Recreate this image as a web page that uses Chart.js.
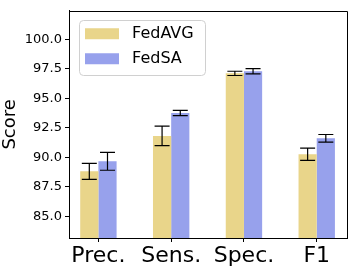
<!DOCTYPE html>
<html lang="en">
<head>
<meta charset="UTF-8">
<script src="https://cdn.jsdelivr.net/npm/chart.js@4.4.0/dist/chart.umd.min.js"></script>
<style>
  html, body { margin: 0; padding: 0; background: #fff; }
  #wrap { width: 357px; height: 268px; }
</style>
</head>
<body>
<div id="wrap"><canvas id="myChart" width="357" height="268"></canvas></div>
<script>
    // data
    const categories = ['Prec.', 'Sens.', 'Spec.', 'F1'];
    const fedavg = [88.8, 91.8, 97.1, 90.25];
    const fedavgErr = [0.68, 0.83, 0.18, 0.52];
    const fedsa = [89.65, 93.74, 97.28, 91.6];
    const fedsaErr = [0.76, 0.22, 0.22, 0.32];
    const yTicks = [85, 87.5, 90, 92.5, 95, 97.5, 100];

    const font = 'DejaVu Sans';

    // error bars with caps, placed through the scales
    const errorBars = {
        id: 'errorBars',
        afterDatasetsDraw(chart) {
            const ctx = chart.ctx;
            const y = chart.scales.y;
            ctx.save();
            ctx.strokeStyle = '#000';
            ctx.lineWidth = 1.2;
            chart.data.datasets.forEach((ds, di) => {
                const meta = chart.getDatasetMeta(di);
                meta.data.forEach((bar, i) => {
                    const v = ds.data[i].y, e = ds.err[i];
                    const top = y.getPixelForValue(v + e);
                    const bot = y.getPixelForValue(v - e);
                    ctx.beginPath();
                    ctx.moveTo(bar.x, top); ctx.lineTo(bar.x, bot);
                    ctx.moveTo(bar.x - 7.5, top); ctx.lineTo(bar.x + 7.5, top);
                    ctx.moveTo(bar.x - 7.5, bot); ctx.lineTo(bar.x + 7.5, bot);
                    ctx.stroke();
                });
            });
            ctx.restore();
        }
    };

    // top/right spines and legend frame
    const frame = {
        id: 'frame',
        afterLayout(chart) {
            const lg = chart.legend;
            lg.left = chart.chartArea.left + 7;
            lg.top = chart.chartArea.top + 6;
        },
        afterDraw(chart) {
            const ctx = chart.ctx;
            const a = chart.chartArea;
            ctx.save();
            ctx.strokeStyle = '#000';
            ctx.lineWidth = 1;
            ctx.beginPath();
            ctx.moveTo(Math.round(a.left) + 0.5, Math.round(a.top) + 0.5);
            ctx.lineTo(Math.round(a.right) + 0.5, Math.round(a.top) + 0.5);
            ctx.lineTo(Math.round(a.right) + 0.5, Math.round(a.bottom) + 0.5);
            ctx.stroke();
            const lg = chart.legend;
            const x = lg.left + 3, yy = lg.top + 3, w = 126, h = 55, r = 4;
            ctx.strokeStyle = '#d0d0d0';
            ctx.beginPath();
            ctx.roundRect(Math.round(x) + 0.5, Math.round(yy) + 0.5, w, h, r);
            ctx.stroke();
            ctx.restore();
        }
    };

    const ctx = document.getElementById('myChart').getContext('2d');
    const myChart = new Chart(ctx, {
        type: 'bar',
        data: {
            datasets: [{
                label: 'FedAVG',
                data: fedavg.map((v, i) => ({ x: i, y: v })),
                err: fedavgErr,
                backgroundColor: 'rgb(233, 213, 138)',
                borderWidth: 0
            }, {
                label: 'FedSA',
                data: fedsa.map((v, i) => ({ x: i, y: v })),
                err: fedsaErr,
                backgroundColor: 'rgb(151, 161, 236)',
                borderWidth: 0
            }]
        },
        options: {
            responsive: false,
            animation: false,
            layout: { padding: { left: 0, top: 6, right: 10, bottom: 0 } },
            datasets: { bar: { categoryPercentage: 0.5, barPercentage: 1.0 } },
            plugins: {
                tooltip: { enabled: false },
                legend: {
                    position: 'chartArea',
                    align: 'start',
                    labels: {
                        boxWidth: 34,
                        boxHeight: 11,
                        padding: 9,
                        color: '#000',
                        font: { family: font, size: 16 },
                        generateLabels(chart) {
                            const items = Chart.defaults.plugins.legend.labels.generateLabels(chart);
                            items.forEach(it => { it.text = ' ' + it.text; });
                            return items;
                        }
                    }
                }
            },
            scales: {
                x: {
                    type: 'linear',
                    offset: false,
                    min: -0.404,
                    max: 3.416,
                    afterBuildTicks(s) { s.ticks = categories.map((c, i) => ({ value: i })); },
                    afterFit(s) { s.height = 30; },
                    grid: { display: true, drawOnChartArea: false, offset: false, tickLength: 4, color: '#000' },
                    border: { color: '#000', width: 1 },
                    ticks: {
                        color: '#000',
                        padding: 1,
                        maxRotation: 0,
                        font: { family: font, size: 22 },
                        callback: (v) => categories[v]
                    }
                },
                y: {
                    min: 83.15,
                    max: 102.4,
                    afterBuildTicks(s) { s.ticks = yTicks.map(v => ({ value: v })); },
                    afterFit(s) { s.width = 69; },
                    grid: { display: true, drawOnChartArea: false, tickLength: 4, color: '#000' },
                    border: { color: '#000', width: 1 },
                    ticks: {
                        color: '#000',
                        padding: 3,
                        font: { family: font, size: 13 },
                        callback: (v) => v.toFixed(1)
                    },
                    title: {
                        display: true,
                        text: 'Score',
                        color: '#000',
                        padding: 0,
                        font: { family: font, size: 18 }
                    }
                }
            }
        },
        plugins: [errorBars, frame]
    });
</script>
</body>
</html>
